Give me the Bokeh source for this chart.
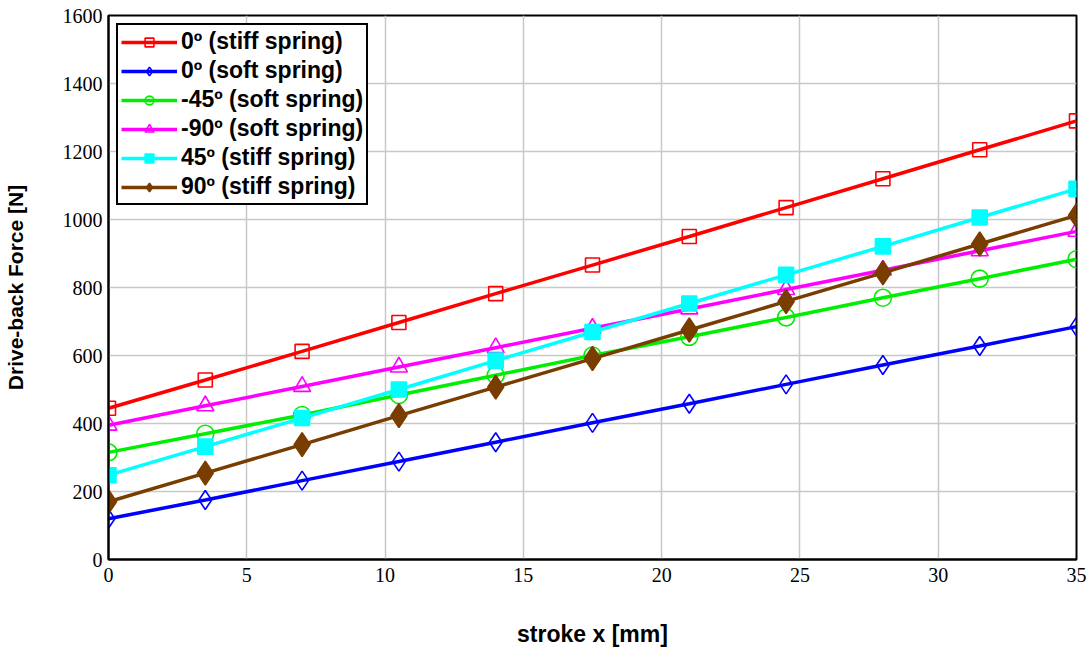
from bokeh.plotting import figure
from bokeh.models import Range1d, Legend, LegendItem, FixedTicker
from bokeh.embed import file_html
from bokeh.resources import INLINE

# stroke positions [mm]
stroke_mm = [0, 3.5, 7, 10.5, 14, 17.5, 21, 24.5, 28, 31.5, 35]

# drive-back force [N] for each configuration
force_0_stiff = [445, 528, 612, 697, 782, 866, 950, 1035, 1120, 1205, 1290]
force_0_soft = [120, 175, 232, 288, 345, 402, 458, 515, 572, 628, 685]
force_m45_soft = [315, 370, 425, 484, 542, 600, 655, 712, 770, 826, 883]
force_m90_soft = [395, 452, 509, 566, 623, 680, 737, 794, 851, 908, 965]
force_45_stiff = [248, 332, 416, 500, 585, 669, 753, 837, 921, 1006, 1090]
force_90_stiff = [170, 254, 338, 423, 507, 591, 675, 759, 843, 928, 1012]

series_labels = ["0º (stiff spring)", "0º (soft spring)", "-45º (soft spring)",
                 "-90º (soft spring)", "45º (stiff spring)", "90º (stiff spring)"]

x_ticks = [0, 5, 10, 15, 20, 25, 30, 35]
y_ticks = [0, 200, 400, 600, 800, 1000, 1200, 1400, 1600]

p = figure(width=1092, height=652, output_backend="svg", toolbar_location=None,
           x_range=Range1d(0, 35), y_range=Range1d(0, 1600),
           min_border_left=107, min_border_right=16, min_border_top=15,
           min_border_bottom=93)

p.outline_line_color = "black"
p.outline_line_width = 2
p.outline_line_alpha = 1.0
p.background_fill_color = "white"
p.border_fill_color = "white"

for ax in (p.xaxis[0], p.yaxis[0]):
    ax.axis_line_color = "black"
    ax.axis_line_width = 2
    ax.major_tick_out = 0
    ax.major_tick_in = 0
    ax.minor_tick_out = 0
    ax.minor_tick_in = 0
    ax.major_label_text_font = "Liberation Serif"
    ax.major_label_text_font_style = "normal"
    ax.major_label_text_font_size = "20px"
    ax.major_label_text_color = "black"
    ax.axis_label_text_font = "Liberation Sans"
    ax.axis_label_text_font_style = "bold"
    ax.axis_label_text_color = "black"

p.xaxis[0].ticker = FixedTicker(ticks=x_ticks)
p.yaxis[0].ticker = FixedTicker(ticks=y_ticks)
p.xaxis[0].axis_label = "stroke x [mm]"
p.yaxis[0].axis_label = "Drive-back Force [N]"
p.xaxis[0].axis_label_text_font_size = "23px"
p.yaxis[0].axis_label_text_font_size = "21px"
p.xaxis[0].axis_label_standoff = 36
p.yaxis[0].axis_label_standoff = 33
p.xaxis[0].major_label_standoff = 8
p.yaxis[0].major_label_standoff = 6

p.xgrid.grid_line_color = "#c8c8c8"
p.ygrid.grid_line_color = "#c8c8c8"
p.xgrid.grid_line_width = 1.5
p.ygrid.grid_line_width = 1.5

styles = [
    (force_0_stiff, "#ff0000", "square", 14, False),
    (force_0_soft, "#0000ff", "diamond", 19, False),
    (force_m45_soft, "#00ee00", "circle", 17, False),
    (force_m90_soft, "#ff00ff", "triangle", 17, False),
    (force_45_stiff, "#00ffff", "square", 15, True),
    (force_90_stiff, "#7a3d00", "diamond", 24, True),
]

items = []
for (vals, color, marker, size, filled), label in zip(styles, series_labels):
    ln = p.line(stroke_mm, vals, line_color=color, line_width=3.5)
    sc = p.scatter(stroke_mm, vals, marker=marker, size=size, line_color=color,
                   line_width=1.6,
                   fill_color=color if filled else None)
    items.append(LegendItem(label=label, renderers=[ln, sc]))

legend = Legend(items=items, location="top_left")
legend.label_text_font = "Liberation Sans"
legend.label_text_font_style = "bold"
legend.label_text_font_size = "23px"
legend.label_text_color = "black"
legend.label_height = 22
legend.glyph_height = 22
legend.glyph_width = 56
legend.label_standoff = 4
legend.spacing = 2
legend.padding = 3
legend.margin = 8
legend.border_line_color = "black"
legend.border_line_alpha = 1.0
legend.border_line_width = 2
legend.background_fill_alpha = 1.0
p.add_layout(legend)

open("out.html", "w").write(file_html(p, INLINE))
